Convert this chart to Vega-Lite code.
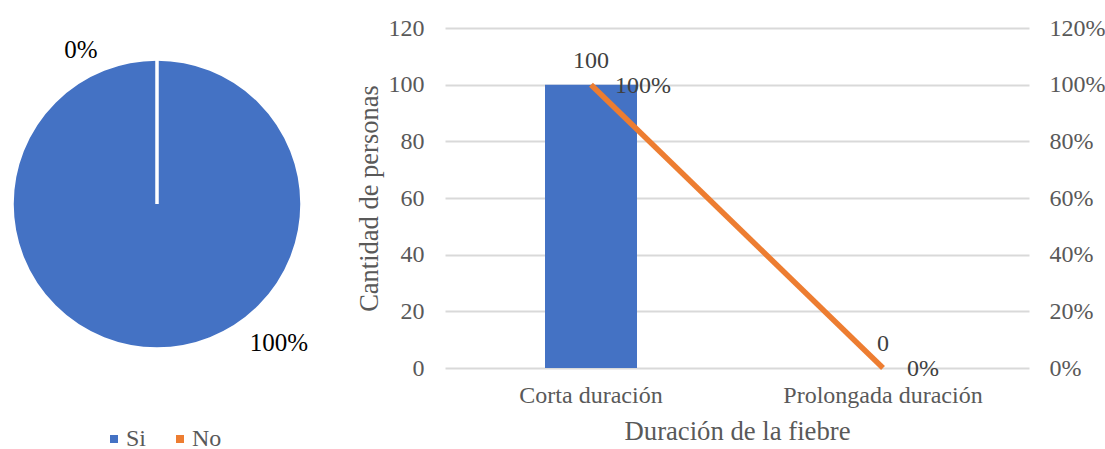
{
  "$schema": "https://vega.github.io/schema/vega-lite/v6.json",
  "padding": {"left": 5, "top": 16, "right": 5, "bottom": 0},
  "background": "white",
  "datasets": {
    "pie": [
      {"respuesta": "Si", "valor": 100, "etiqueta": "100%"},
      {"respuesta": "No", "valor": 0, "etiqueta": "0%"}
    ],
    "fiebre": [
      {"duracion": "Corta duración", "personas": 100, "porcentaje": 1.0},
      {"duracion": "Prolongada duración", "personas": 0, "porcentaje": 0.0}
    ]
  },
  "config": {
    "font": "Liberation Serif",
    "view": {"stroke": null},
    "concat": {"spacing": 138},
    "legend": {
      "labelFontSize": 24,
      "labelFont": "Liberation Serif",
      "labelColor": "#595959",
      "symbolSize": 64,
      "symbolType": "square",
      "symbolStrokeWidth": 0,
      "labelOffset": 0,
      "columnPadding": 21,
      "padding": 0
    }
  },
  "bounds": "flush",
  "resolve": {"legend": {"color": "independent"}, "scale": {"color": "independent"}},
  "hconcat": [
    {
      "width": 300,
      "height": 352,
      "data": {"name": "pie"},
      "encoding": {
        "theta": {"field": "valor", "type": "quantitative", "stack": true},
        "color": {
          "field": "respuesta",
          "type": "nominal",
          "sort": ["Si", "No"],
          "scale": {"domain": ["Si", "No"], "range": ["#4472C4", "#ED7D31"]},
          "legend": {
            "title": null,
            "orient": "none",
            "legendX": 95,
            "legendY": 399,
            "direction": "horizontal",
            "symbolType": "square",
            "symbolSize": 64,
            "symbolStrokeWidth": 0,
            "labelFontSize": 24,
            "labelColor": "#595959",
            "labelOffset": 0,
            "columnPadding": 21,
            "labelFont": "Liberation Serif"
          }
        }
      },
      "layer": [
        {
          "mark": {"type": "arc", "radius": 145, "stroke": "white", "strokeWidth": 3.5}
        },
        {
          "transform": [{"filter": "datum.respuesta === 'No'"}],
          "mark": {"type": "text", "radius": 154, "dx": -76, "fontSize": 25, "baseline": "middle"},
          "encoding": {"text": {"field": "etiqueta"}, "color": {"value": "#000000"}}
        },
        {
          "transform": [{"filter": "datum.respuesta === 'Si'"}],
          "mark": {"type": "text", "radius": 139, "dx": 122, "fontSize": 25, "baseline": "middle"},
          "encoding": {"text": {"field": "etiqueta"}, "color": {"value": "#000000"}}
        }
      ]
    },
    {
      "width": 584,
      "height": 340,
      "data": {"name": "fiebre"},
      "encoding": {
        "x": {
          "field": "duracion",
          "type": "nominal",
          "sort": null,
          "scale": {"paddingInner": 0, "paddingOuter": 0},
          "axis": {
            "title": "Duración de la fiebre",
            "labelAngle": 0,
            "labelLimit": 0,
            "ticks": false,
            "domain": false,
            "labelFontSize": 24,
            "labelColor": "#595959",
            "labelPadding": 15,
            "titleFontSize": 26.7,
            "titleFontWeight": "normal",
            "titleColor": "#595959",
            "titlePadding": 11
          }
        }
      },
      "layer": [
        {
          "encoding": {
            "y": {
              "field": "personas",
              "type": "quantitative",
              "scale": {"domain": [0, 120], "nice": false},
              "axis": {
                "title": "Cantidad de personas",
                "values": [0, 20, 40, 60, 80, 100, 120],
                "grid": true,
                "gridColor": "#D9D9D9",
                "gridWidth": 2,
                "domain": false,
                "ticks": false,
                "labelFontSize": 24,
                "labelColor": "#595959",
                "labelPadding": 21,
                "titleFontSize": 26.5,
                "titleFontWeight": "normal",
                "titleColor": "#595959",
                "titlePadding": 5
              }
            }
          },
          "layer": [
            {
              "mark": {"type": "bar", "width": 92, "color": "#4472C4"}
            },
            {
              "mark": {"type": "text", "fontSize": 24, "dy": -24, "baseline": "middle", "color": "#404040"},
              "encoding": {
                "text": {"field": "personas", "type": "quantitative"}
              }
            }
          ]
        },
        {
          "encoding": {
            "y": {
              "field": "porcentaje",
              "type": "quantitative",
              "scale": {"domain": [0, 1.2], "nice": false},
              "axis": {
                "title": null,
                "orient": "right",
                "format": ".0%",
                "values": [0, 0.2, 0.4, 0.6, 0.8, 1.0, 1.2],
                "grid": false,
                "domain": false,
                "ticks": false,
                "labelFontSize": 24,
                "labelColor": "#595959",
                "labelPadding": 20
              }
            }
          },
          "layer": [
            {
              "mark": {"type": "line", "color": "#ED7D31", "strokeWidth": 5.5}
            },
            {
              "mark": {"type": "text", "fontSize": 24, "dx": 24, "dy": 1, "align": "left", "baseline": "middle", "color": "#404040"},
              "encoding": {
                "text": {"field": "porcentaje", "type": "quantitative", "format": ".0%"}
              }
            }
          ]
        }
      ],
      "resolve": {"scale": {"y": "independent"}, "axis": {"y": "independent"}}
    }
  ]
}
